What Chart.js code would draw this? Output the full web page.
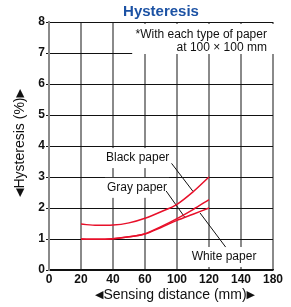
<!DOCTYPE html>
<html>
<head>
<meta charset="utf-8">
<script src="https://cdn.jsdelivr.net/npm/chart.js@4.4.1/dist/chart.umd.min.js"></script>
<style>
html,body{margin:0;padding:0;background:#fff;}
#wrap{width:291px;height:307px;}
</style>
</head>
<body>
<div id="wrap"><canvas id="c" width="291" height="307"></canvas></div>
<script>
// ---- data ----
const xTickLabels = ['0', '20', '40', '60', '100', '120', '140', '180'];
const xTickValues = [0, 20, 40, 60, 100, 120, 140, 180];
const yTickValues = [0, 1, 2, 3, 4, 5, 6, 7, 8];

const distance   = [20, 30, 40, 50, 60, 80, 100, 110, 120];
const blackPaper = [1.48, 1.44, 1.45, 1.52, 1.67, 1.88, 2.12, 2.52, 3.00];
const grayPaper  = [1.00, 0.99, 1.01, 1.07, 1.17, 1.40, 1.66, 1.95, 2.27];
const whitePaper = [1.00, 0.99, 1.01, 1.07, 1.16, 1.37, 1.60, 1.80, 2.00];

const seriesNames = ['Black paper', 'Gray paper', 'White paper'];
const noteLines = ['*With each type of paper', 'at 100 \u00d7 100 mm'];
const xTitle = 'Sensing distance (mm)';
const yTitle = 'Hysteresis (%)';

// map a distance (mm) onto the axis as it is labelled
function distToPos(d) {
  for (let i = 0; i < xTickValues.length - 1; i++) {
    const a = xTickValues[i], b = xTickValues[i + 1];
    if (d >= a && d <= b) return i + (d - a) / (b - a);
  }
  return xTickValues.length - 1;
}
function pts(vals) { return distance.map((d, i) => ({ x: distToPos(d), y: vals[i] })); }

const RED = '#e8102a';
const FONT = "'Liberation Sans', Arial, sans-serif";
const TRI = "'DejaVu Sans', sans-serif";

// annotation layout (in axis units: x = tick index, y = %)
const labelAnno = [
  { text: seriesNames[0], x: 2.77, y: 3.61, lx1: 3.83, ly1: 3.44, lx2: 4.49, ly2: 2.55 },
  { text: seriesNames[1], x: 2.75, y: 2.65, lx1: 3.66, ly1: 2.55, lx2: 4.25, ly2: 1.69 },
  { text: seriesNames[2], x: 5.47, y: 0.42, lx1: 5.52, ly1: 0.74, lx2: 4.72, ly2: 1.84 }
];

// draws "◀text▶" with smaller arrow glyphs, centred at (0,0) of current transform
function arrowTitle(ctx, text) {
  ctx.textBaseline = 'middle';
  ctx.font = '14px ' + FONT;
  const tw = ctx.measureText(text).width;
  ctx.font = '11px ' + TRI;
  const aw = ctx.measureText('\u25C0').width;
  const gap = 0;
  const total = aw * 2 + gap * 2 + tw;
  let x = -total / 2;
  ctx.textAlign = 'left';
  ctx.fillText('\u25C0', x, 0.5);
  x += aw + gap;
  ctx.font = '14px ' + FONT;
  ctx.fillText(text, x, 0);
  x += tw + gap;
  ctx.font = '11px ' + TRI;
  ctx.fillText('\u25B6', x, 0.5);
}

const annoPlugin = {
  id: 'anno',
  beforeDatasetsDraw(chart) {
    const ctx = chart.ctx, xs = chart.scales.x, ys = chart.scales.y, ca = chart.chartArea;
    ctx.save();
    // note box
    const bx = xs.getPixelForValue(2.6);
    const by = ca.top + 2;
    const bb = ys.getPixelForValue(7) + 1;
    ctx.fillStyle = '#fff';
    ctx.fillRect(bx, by, ca.right + 2 - bx, bb - by);
    ctx.fillStyle = '#111';
    ctx.font = '12px ' + FONT;
    ctx.textAlign = 'right';
    ctx.textBaseline = 'middle';
    ctx.fillText(noteLines[0], xs.getPixelForValue(6.81), ys.getPixelForValue(7.58));
    ctx.fillText(noteLines[1], xs.getPixelForValue(6.81), ys.getPixelForValue(7.16));
    // series labels
    ctx.textAlign = 'center';
    labelAnno.forEach(a => {
      const px = xs.getPixelForValue(a.x), py = ys.getPixelForValue(a.y);
      const w = ctx.measureText(a.text).width;
      ctx.fillStyle = '#fff';
      ctx.fillRect(px - w / 2 - 2, py - 10, w + 4, 20);
      ctx.fillStyle = '#111';
      ctx.fillText(a.text, px, py);
      ctx.strokeStyle = '#111';
      ctx.lineWidth = 1;
      ctx.beginPath();
      ctx.moveTo(xs.getPixelForValue(a.lx1), ys.getPixelForValue(a.ly1));
      ctx.lineTo(xs.getPixelForValue(a.lx2), ys.getPixelForValue(a.ly2));
      ctx.stroke();
    });
    ctx.restore();
  },
  afterDraw(chart) {
    const ctx = chart.ctx, ca = chart.chartArea;
    ctx.save();
    ctx.fillStyle = '#111';
    // x-axis title (sits slightly right of centre, as in the original)
    ctx.translate(ca.left + (ca.right - ca.left) / 2 + 14, chart.height - 12);
    arrowTitle(ctx, xTitle);
    ctx.restore();
    ctx.save();
    ctx.fillStyle = '#111';
    ctx.translate(20, ca.top + (ca.bottom - ca.top) / 2 - 3);
    ctx.rotate(-Math.PI / 2);
    arrowTitle(ctx, yTitle);
    ctx.restore();
  }
};

const ds = (label, vals) => ({
  label, data: pts(vals), borderColor: RED, borderWidth: 1.5,
  pointRadius: 0, fill: false, cubicInterpolationMode: 'monotone'
});

new Chart(document.getElementById('c'), {
  type: 'line',
  data: { datasets: [ds(seriesNames[0], blackPaper), ds(seriesNames[1], grayPaper), ds(seriesNames[2], whitePaper)] },
  options: {
    responsive: false,
    devicePixelRatio: 1,
    animation: false,
    layout: { padding: { left: 0, right: 18, top: 0, bottom: 0 } },
    plugins: {
      legend: { display: false },
      tooltip: { enabled: false },
      title: {
        display: true, text: 'Hysteresis', color: '#1c52a4', fullSize: false,
        font: { family: FONT, size: 15, weight: 'bold', lineHeight: 1.2 },
        padding: { top: 3, bottom: 1 }
      }
    },
    scales: {
      x: {
        type: 'linear', min: 0, max: xTickValues.length - 1,
        afterFit: s => { s.height = 37; },
        ticks: {
          stepSize: 1, autoSkip: false, maxRotation: 0, color: '#111', padding: 2,
          font: { family: FONT, size: 12, weight: 'bold' },
          callback: v => xTickLabels[v]
        },
        grid: { color: '#8a8a8a', lineWidth: 2, drawTicks: false },
        border: { display: true, color: '#111', width: 1.5 },
        title: { display: false }
      },
      y: {
        min: 0, max: 8,
        afterFit: s => { s.width = 49; },
        afterBuildTicks: s => { s.ticks = yTickValues.map(v => ({ value: v })); },
        ticks: { color: '#111', padding: 1, font: { family: FONT, size: 12, weight: 'bold' } },
        grid: { color: '#111', lineWidth: 1, tickLength: 3 },
        border: { display: true, color: '#8a8a8a', width: 2 },
        title: { display: false }
      }
    }
  },
  plugins: [annoPlugin]
});
</script>
</body>
</html>
